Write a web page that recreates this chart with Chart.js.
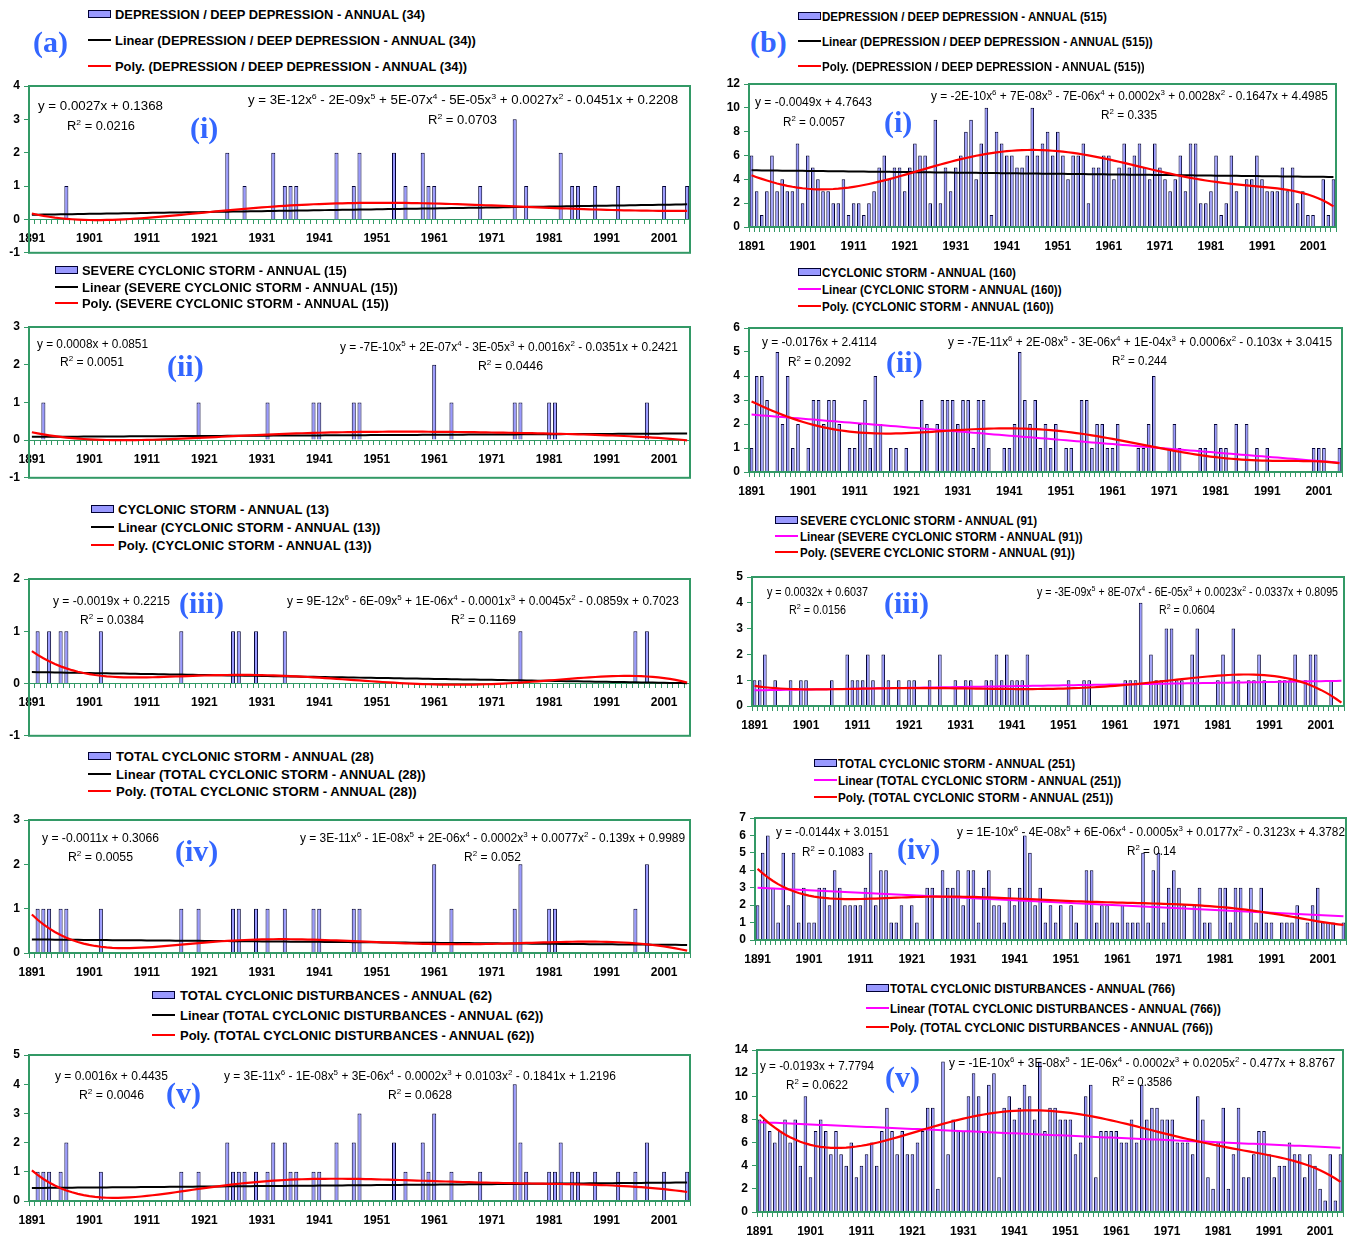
<!DOCTYPE html>
<html lang="en">
<head>
<meta charset="UTF-8">
<title>Cyclonic disturbances - annual trends</title>
<script src="https://cdn.jsdelivr.net/npm/chart.js"></script>
<style>
  body {
    margin: 0;
    width: 1352px;
    height: 1238px;
    position: relative;
    overflow: hidden;
    background: #fff;
    font-family: "Liberation Sans", Arial, sans-serif;
  }
  canvas { position: absolute; z-index: 0; }
  .txt {
    position: absolute;
    z-index: 1;
    white-space: nowrap;
    line-height: 1;
    transform-origin: 0 50%;
    transform: translateY(-50%);
  }
  .eq { font-size: 12px; color: #000; }
  .eq sup { font-size: 8px; vertical-align: 5px; line-height: 0; }
  .leg { font-size: 13px; font-weight: bold; color: #000; }
  .tag { font-family: "Liberation Serif", "Times New Roman", serif; font-weight: bold; font-size: 30px; color: #3366ff; }
  .sw { position: absolute; z-index: 1; }
</style>
</head>
<body>
<script>
  // years 1891 - 2005 (115 categories)
  const years = [];
  for (let y = 1891; y <= 2005; y++) years.push(String(y));

  // (a) — 1891-2005, one row per decade
  const depA = [
    0,0,0,0,0,0,1,0,0,0, 0,0,0,0,0,0,0,0,0,0, 0,0,0,0,0,0,0,0,0,0,
    0,0,0,0,2,0,0,1,0,0, 0,0,2,0,1,1,1,0,0,0, 0,0,0,2,0,0,1,2,0,0,
    0,0,0,2,0,1,0,0,2,1, 1,0,0,0,0,0,0,0,1,0, 0,0,0,0,3,0,1,0,0,0,
    0,0,2,0,1,1,0,0,1,0, 0,0,1,0,0,0,0,0,0,0, 1,0,0,0,1
  ];
  const scsA = [
    0,0,1,0,0,0,0,0,0,0, 0,0,0,0,0,0,0,0,0,0, 0,0,0,0,0,0,0,0,0,1,
    0,0,0,0,0,0,0,0,0,0, 0,1,0,0,0,0,0,0,0,1, 1,0,0,0,0,0,1,1,0,0,
    0,0,0,0,0,0,0,0,0,0, 2,0,0,1,0,0,0,0,0,0, 0,0,0,0,1,1,0,0,0,0,
    1,1,0,0,0,0,0,0,0,0, 0,0,0,0,0,0,0,1,0,0, 0,0,0,0,0
  ];
  const csA = [
    0,1,0,1,0,1,1,0,0,0, 0,0,1,0,0,0,0,0,0,0, 0,0,0,0,0,0,1,0,0,0,
    0,0,0,0,0,1,1,0,0,1, 0,0,0,0,1,0,0,0,0,0, 0,0,0,0,0,0,0,0,0,0,
    0,0,0,0,0,0,0,0,0,0, 0,0,0,0,0,0,0,0,0,0, 0,0,0,0,0,1,0,0,0,0,
    0,0,0,0,0,0,0,0,0,0, 0,0,0,0,0,1,0,1,0,0, 0,0,0,0,0
  ];
  const tcsA = [
    0,1,1,1,0,1,1,0,0,0, 0,0,1,0,0,0,0,0,0,0, 0,0,0,0,0,0,1,0,0,1,
    0,0,0,0,0,1,1,0,0,1, 0,1,0,0,1,0,0,0,0,1, 1,0,0,0,0,0,1,1,0,0,
    0,0,0,0,0,0,0,0,0,0, 2,0,0,1,0,0,0,0,0,0, 0,0,0,0,1,2,0,0,0,0,
    1,1,0,0,0,0,0,0,0,0, 0,0,0,0,0,1,0,2,0,0, 0,0,0,0,0
  ];
  const tcdA = [
    0,1,1,1,0,1,2,0,0,0, 0,0,1,0,0,0,0,0,0,0, 0,0,0,0,0,0,1,0,0,1,
    0,0,0,0,2,1,1,1,0,1, 0,1,2,0,2,1,1,0,0,1, 1,0,0,2,0,0,2,3,0,0,
    0,0,0,2,0,1,0,0,2,1, 3,0,0,1,0,0,0,0,1,0, 0,0,0,0,4,2,1,0,0,0,
    1,1,2,0,1,1,0,0,1,0, 0,0,1,0,0,1,0,2,0,0, 1,0,0,0,1
  ];

  // (b)
  const depB = [
    6,3,1,3,6,3,4,3,3,7, 2,6,5,4,3,3,2,2,4,1, 2,2,1,2,3,5,6,4,5,5,
    3,5,7,6,6,2,9,2,5,3, 5,6,8,9,4,7,10,1,8,7, 6,6,5,5,6,10,6,7,8,6,
    8,6,4,6,6,7,2,5,5,6, 6,4,5,7,5,6,7,5,4,7, 5,4,3,4,6,3,7,7,2,2,
    3,6,1,2,6,3,0,4,4,6, 4,3,3,3,5,3,5,2,3,1, 1,0,4,1,4
  ];
  const csB = [
    1,4,4,3,0,5,2,4,1,2, 0,1,3,3,2,3,3,2,0,1, 1,2,3,1,4,2,0,1,1,0,
    1,0,0,3,2,0,2,3,3,3, 2,3,3,1,3,3,1,0,0,1, 1,2,5,3,2,3,1,2,1,2,
    0,1,1,0,3,3,1,2,2,1, 1,2,0,0,0,1,1,2,4,0, 0,1,2,1,0,0,0,1,1,0,
    2,1,1,0,2,0,2,0,1,0, 1,0,0,0,0,0,0,0,0,1, 1,1,0,0,1
  ];
  const scsB = [
    1,1,2,0,1,0,0,1,0,1, 1,0,0,0,0,1,0,0,2,1, 1,1,2,1,0,2,1,0,1,0,
    1,1,0,0,1,0,2,0,0,1, 0,1,1,0,0,1,1,2,1,2, 1,1,1,2,0,0,0,0,0,0,
    0,1,0,0,1,1,0,0,0,0, 0,0,1,1,1,4,0,2,1,1, 3,3,1,1,0,2,3,0,0,0,
    1,2,0,3,1,0,1,1,2,1, 0,0,1,1,1,2,0,1,2,2, 0,0,1,0,0
  ];
  const tcsB = [
    2,5,6,3,1,5,2,5,1,3, 1,1,3,3,2,4,3,2,2,2, 2,3,5,2,4,4,1,1,2,0,
    2,1,0,3,3,0,4,3,3,4, 2,4,4,1,3,4,2,2,1,3, 2,3,6,5,2,3,1,2,1,2,
    0,2,1,0,4,4,1,2,2,1, 1,2,1,1,1,5,1,4,5,1, 3,4,3,2,0,2,3,1,1,0,
    3,3,1,3,3,0,3,1,3,1, 1,0,1,1,1,2,0,1,2,3, 1,1,1,0,1
  ];
  const tcdB = [
    8,8,7,6,7,8,6,8,4,10, 3,7,8,7,5,7,5,4,6,3, 4,5,6,4,7,9,7,5,7,5,
    5,6,7,9,9,2,13,5,8,7, 7,10,12,10,7,11,12,3,9,10, 8,9,11,10,8,13,7,9,9,8,
    8,8,5,6,10,11,3,7,7,7, 7,6,6,8,6,11,8,9,9,8, 8,8,6,6,6,5,10,8,3,2,
    6,9,2,5,9,3,3,5,7,7, 5,3,4,4,6,5,5,3,5,4, 2,1,5,1,5
  ];

  const green = '#339966';
  Chart.defaults.font.family = '"Liberation Sans", Arial, sans-serif';

  // least squares polynomial (x = 1..n, scaled to [-1, 1])
  function fitPoly(vals, deg) {
    const n = vals.length, h = (n + 1) / 2, s = (n - 1) / 2, m = deg + 1;
    const A = [];
    for (let r = 0; r < m; r++) A.push(new Array(m + 1).fill(0));
    for (let i = 0; i < n; i++) {
      const t = (i + 1 - h) / s;
      const p = [];
      for (let k = 0; k < m; k++) p.push(Math.pow(t, k));
      for (let r = 0; r < m; r++) {
        for (let c = 0; c < m; c++) A[r][c] += p[r] * p[c];
        A[r][m] += p[r] * vals[i];
      }
    }
    for (let col = 0; col < m; col++) {
      let piv = col;
      for (let r = col + 1; r < m; r++) if (Math.abs(A[r][col]) > Math.abs(A[piv][col])) piv = r;
      const tmp = A[col]; A[col] = A[piv]; A[piv] = tmp;
      for (let r = 0; r < m; r++) {
        if (r === col) continue;
        const f = A[r][col] / A[col][col];
        for (let c = col; c <= m; c++) A[r][c] -= f * A[col][c];
      }
    }
    const coef = A.map((row, k) => row[m] / row[k]);
    return vals.map((v, i) => {
      const t = (i + 1 - h) / s;
      let y = 0;
      for (let k = m - 1; k >= 0; k--) y = y * t + coef[k];
      return y;
    });
  }

  const frame = {
    id: 'frame',
    afterDraw(chart) {
      const a = chart.chartArea, ctx = chart.ctx;
      ctx.save();
      ctx.strokeStyle = green;
      ctx.lineWidth = 2;
      ctx.strokeRect(a.left, a.top, a.right - a.left, a.bottom - a.top);
      ctx.restore();
    }
  };

  function put(x, y, html, cls, w) {
    const d = document.createElement('div');
    d.className = 'txt ' + cls;
    d.innerHTML = html;
    d.style.left = x + 'px';
    d.style.top = y + 'px';
    document.body.appendChild(d);
    if (w) {
      const k = w / d.getBoundingClientRect().width;
      d.style.transform = 'translateY(-50%) scaleX(' + k.toFixed(3) + ')';
    }
    return d;
  }

  function swatch(x, y, kind, color) {
    const d = document.createElement('div');
    d.className = 'sw';
    if (kind === 'bar') {
      d.style.cssText = 'left:' + x + 'px;top:' + (y - 4) + 'px;width:21px;height:6px;background:#9999ff;border:1px solid #000033;';
    } else {
      d.style.cssText = 'left:' + x + 'px;top:' + (y - 1) + 'px;width:23px;height:2px;background:' + color + ';';
    }
    document.body.appendChild(d);
  }

  function panel(p) {
    const cl = p.cx[0], cr = p.cx[1];
    const ct = p.box[1] - 12, cb = p.box[3] + p.below;
    const cv = document.createElement('canvas');
    cv.width = cr - cl;
    cv.height = cb - ct;
    cv.style.left = cl + 'px';
    cv.style.top = ct + 'px';
    document.body.appendChild(cv);
    const yw = p.box[0] - cl;

    new Chart(cv, {
      type: 'bar',
      data: {
        labels: years,
        datasets: [
          { type: 'line', data: fitPoly(p.data, p.deg), borderColor: '#ff0000', borderWidth: 2.2,
            pointRadius: 0, tension: 0, order: 1 },
          { type: 'line', data: fitPoly(p.data, 1), borderColor: p.lin, borderWidth: 2,
            pointRadius: 0, tension: 0, order: 2 },
          { data: p.data, backgroundColor: '#9999ff', borderColor: '#000033', borderWidth: 1,
            barPercentage: 0.7, categoryPercentage: 1, order: 3 }
        ]
      },
      options: {
        responsive: false,
        animation: false,
        layout: { padding: { top: 12, right: cr - p.box[2], bottom: cb - p.box[3], left: 0 } },
        plugins: { legend: { display: false }, tooltip: { enabled: false } },
        scales: {
          x: {
            axis: 'x',
            position: { y: 0 },
            grid: { drawOnChartArea: false, drawTicks: true, tickLength: 4, color: green, offset: true },
            border: { display: true, color: green, width: 1 },
            ticks: {
              autoSkip: false, maxRotation: 0, minRotation: 0, padding: 8,
              font: { size: 12, weight: 'bold' }, color: '#000',
              callback: (v, i) => (i % 10 === 0 ? years[i] : '')
            }
          },
          y: {
            min: p.min, max: p.max,
            grid: { drawOnChartArea: false, drawTicks: true, tickLength: 5, color: green },
            border: { display: false },
            ticks: { stepSize: p.step, padding: 4, font: { size: 12, weight: 'bold' }, color: '#000' },
            afterFit: s => { s.width = yw; }
          }
        }
      },
      plugins: [frame]
    });

    // legend
    const names = [p.name, 'Linear (' + p.name + ')', 'Poly. (' + p.name + ')'];
    const g = p.leg;
    swatch(g.sx, g.rows[0], 'bar');
    swatch(g.sx, g.rows[1], 'line', p.lin);
    swatch(g.sx, g.rows[2], 'line', '#ff0000');
    const first = put(g.tx, g.rows[0], names[0], 'leg');
    const k = g.w / first.getBoundingClientRect().width;
    names.forEach((t, i) => {
      const d = i === 0 ? first : put(g.tx, g.rows[i], t, 'leg');
      d.style.transform = 'translateY(-50%) scaleX(' + k.toFixed(3) + ')';
    });

    // trendline labels
    p.eqs.forEach(e => put(e[0], e[1], e[2], 'eq', e[3]));
    put(p.tag[0], p.tag[1], p.tag[2], 'tag');
  }

  const R2 = v => 'R<sup>2</sup> = ' + v;

  const panels = [
    { data: depA, deg: 6, lin: '#000', name: 'DEPRESSION / DEEP DEPRESSION - ANNUAL (34)',
      cx: [0, 700], box: [29, 86, 690, 256], below: 8, min: -1, max: 4, step: 1,
      leg: { sx: 88, tx: 115, rows: [14, 40, 66], w: 310 },
      tag: [190, 128, '(i)'],
      eqs: [[38, 106, 'y = 0.0027x + 0.1368', 125], [67, 126, R2('0.0216'), 68],
            [248, 100, 'y = 3E-12x<sup>6</sup> - 2E-09x<sup>5</sup> + 5E-07x<sup>4</sup> - 5E-05x<sup>3</sup> + 0.0027x<sup>2</sup> - 0.0451x + 0.2208', 430],
            [428, 120, R2('0.0703'), 69]] },
    { data: scsA, deg: 5, lin: '#000', name: 'SEVERE CYCLONIC STORM - ANNUAL (15)',
      cx: [0, 700], box: [29, 327, 690, 481], below: 8, min: -1, max: 3, step: 1,
      leg: { sx: 55, tx: 82, rows: [270, 287, 303], w: 265 },
      tag: [167, 366, '(ii)'],
      eqs: [[37, 344, 'y = 0.0008x + 0.0851', 111], [60, 362, R2('0.0051'), 64],
            [340, 347, 'y = -7E-10x<sup>5</sup> + 2E-07x<sup>4</sup> - 3E-05x<sup>3</sup> + 0.0016x<sup>2</sup> - 0.0351x + 0.2421', 338],
            [478, 366, R2('0.0446'), 65]] },
    { data: csA, deg: 6, lin: '#000', name: 'CYCLONIC STORM - ANNUAL (13)',
      cx: [0, 700], box: [29, 579, 690, 739], below: 8, min: -1, max: 2, step: 1,
      leg: { sx: 91, tx: 118, rows: [509, 527, 545], w: 211 },
      tag: [179, 603, '(iii)'],
      eqs: [[53, 601, 'y = -0.0019x + 0.2215', 117], [80, 620, R2('0.0384'), 64],
            [287, 601, 'y = 9E-12x<sup>6</sup> - 6E-09x<sup>5</sup> + 1E-06x<sup>4</sup> - 0.0001x<sup>3</sup> + 0.0045x<sup>2</sup> - 0.0859x + 0.7023', 392],
            [451, 620, R2('0.1169'), 65]] },
    { data: tcsA, deg: 6, lin: '#000', name: 'TOTAL CYCLONIC STORM - ANNUAL (28)',
      cx: [0, 700], box: [29, 820, 690, 953], below: 30, min: 0, max: 3, step: 1,
      leg: { sx: 88, tx: 116, rows: [756, 774, 791], w: 258 },
      tag: [175, 851, '(iv)'],
      eqs: [[42, 838, 'y = -0.0011x + 0.3066', 117], [68, 857, R2('0.0055'), 65],
            [300, 838, 'y = 3E-11x<sup>6</sup> - 1E-08x<sup>5</sup> + 2E-06x<sup>4</sup> - 0.0002x<sup>3</sup> + 0.0077x<sup>2</sup> - 0.139x + 0.9989', 385],
            [464, 857, R2('0.052'), 57]] },
    { data: tcdA, deg: 6, lin: '#000', name: 'TOTAL CYCLONIC DISTURBANCES - ANNUAL (62)',
      cx: [0, 700], box: [29, 1055, 690, 1201], below: 30, min: 0, max: 5, step: 1,
      leg: { sx: 152, tx: 180, rows: [995, 1015, 1035], w: 312 },
      tag: [166, 1093, '(v)'],
      eqs: [[55, 1076, 'y = 0.0016x + 0.4435', 113], [79, 1095, R2('0.0046'), 65],
            [224, 1076, 'y = 3E-11x<sup>6</sup> - 1E-08x<sup>5</sup> + 3E-06x<sup>4</sup> - 0.0002x<sup>3</sup> + 0.0103x<sup>2</sup> - 0.1841x + 1.2196', 392],
            [388, 1095, R2('0.0628'), 64]] },

    { data: depB, deg: 6, lin: '#000', name: 'DEPRESSION / DEEP DEPRESSION - ANNUAL (515)',
      cx: [712, 1352], box: [749, 84, 1336, 227], below: 30, min: 0, max: 12, step: 2,
      leg: { sx: 798, tx: 822, rows: [16, 41, 66], w: 285 },
      tag: [884, 122, '(i)'],
      eqs: [[755, 102, 'y = -0.0049x + 4.7643', 117], [783, 122, R2('0.0057'), 62],
            [931, 96, 'y = -2E-10x<sup>6</sup> + 7E-08x<sup>5</sup> - 7E-06x<sup>4</sup> + 0.0002x<sup>3</sup> + 0.0028x<sup>2</sup> - 0.1647x + 4.4985', 397],
            [1101, 115, R2('0.335'), 56]] },
    { data: csB, deg: 6, lin: '#ff00ff', name: 'CYCLONIC STORM - ANNUAL (160)',
      cx: [712, 1352], box: [749, 328, 1342, 472], below: 30, min: 0, max: 6, step: 1,
      leg: { sx: 798, tx: 822, rows: [272, 289, 306], w: 194 },
      tag: [886, 362, '(ii)'],
      eqs: [[762, 342, 'y = -0.0176x + 2.4114', 115], [788, 362, R2('0.2092'), 63],
            [948, 342, 'y = -7E-11x<sup>6</sup> + 2E-08x<sup>5</sup> - 3E-06x<sup>4</sup> + 1E-04x<sup>3</sup> + 0.0006x<sup>2</sup> - 0.103x + 3.0415', 384],
            [1112, 361, R2('0.244'), 55]] },
    { data: scsB, deg: 5, lin: '#ff00ff', name: 'SEVERE CYCLONIC STORM - ANNUAL (91)',
      cx: [712, 1352], box: [752, 577, 1344, 706], below: 30, min: 0, max: 5, step: 1,
      leg: { sx: 775, tx: 800, rows: [520, 536, 552], w: 237 },
      tag: [884, 603, '(iii)'],
      eqs: [[767, 592, 'y = 0.0032x + 0.6037', 101], [789, 610, R2('0.0156'), 57],
            [1037, 592, 'y = -3E-09x<sup>5</sup> + 8E-07x<sup>4</sup> - 6E-05x<sup>3</sup> + 0.0023x<sup>2</sup> - 0.0337x + 0.8095', 301],
            [1159, 610, R2('0.0604'), 56]] },
    { data: tcsB, deg: 6, lin: '#ff00ff', name: 'TOTAL CYCLONIC STORM - ANNUAL (251)',
      cx: [712, 1352], box: [755, 818, 1346, 940], below: 30, min: 0, max: 7, step: 1,
      leg: { sx: 814, tx: 838, rows: [763, 780, 797], w: 237 },
      tag: [897, 849, '(iv)'],
      eqs: [[776, 832, 'y = -0.0144x + 3.0151', 113], [802, 852, R2('0.1083'), 62],
            [957, 832, 'y = 1E-10x<sup>6</sup> - 4E-08x<sup>5</sup> + 6E-06x<sup>4</sup> - 0.0005x<sup>3</sup> + 0.0177x<sup>2</sup> - 0.3123x + 4.3782', 388],
            [1127, 851, R2('0.14'), 49]] },
    { data: tcdB, deg: 6, lin: '#ff00ff', name: 'TOTAL CYCLONIC DISTURBANCES - ANNUAL (766)',
      cx: [712, 1352], box: [757, 1050, 1343, 1212], below: 26, min: 0, max: 14, step: 2,
      leg: { sx: 866, tx: 890, rows: [988, 1008, 1027], w: 285 },
      tag: [885, 1077, '(v)'],
      eqs: [[760, 1066, 'y = -0.0193x + 7.7794', 114], [786, 1085, R2('0.0622'), 62],
            [949, 1063, 'y = -1E-10x<sup>6</sup> + 3E-08x<sup>5</sup> - 1E-06x<sup>4</sup> - 0.0002x<sup>3</sup> + 0.0205x<sup>2</sup> - 0.477x + 8.8767', 386],
            [1112, 1082, R2('0.3586'), 60]] }
  ];

  panels.forEach(panel);
  put(33, 42, '(a)', 'tag');
  put(750, 42, '(b)', 'tag');
</script>
</body>
</html>
